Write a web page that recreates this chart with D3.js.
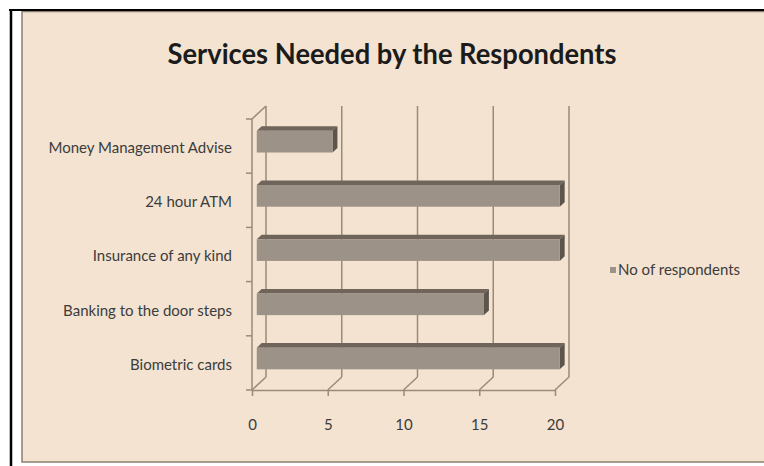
<!DOCTYPE html>
<html>
<head>
<meta charset="utf-8">
<script src="https://cdn.jsdelivr.net/npm/d3@7"></script>
<style>
  html, body { margin: 0; padding: 0; background: #ffffff; }
  svg { display: block; }
</style>
</head>
<body>
<svg id="chart" width="764" height="466"></svg>
<script>
// ---- data ----
const title = "Services Needed by the Respondents";
const categories = ["Money Management Advise", "24 hour ATM", "Insurance of any kind", "Banking to the door steps", "Biometric cards"];
const values = [5, 20, 20, 15, 20];
const seriesName = "No of respondents";
const xTicks = [0, 5, 10, 15, 20];

// ---- layout ----
const W = 764, H = 466;
const svg = d3.select("#chart");
const font = "Lato, 'Open Sans', 'DejaVu Sans', sans-serif";

// outer frame
svg.append("rect").attr("x", 0).attr("y", 0).attr("width", W).attr("height", H).attr("fill", "#ffffff");
svg.append("rect").attr("x", 22).attr("y", 11.5).attr("width", W - 21).attr("height", 450.5)
  .attr("fill", "#F3E3D0").attr("stroke", "#8c8070").attr("stroke-width", 1.5);
svg.append("line").attr("x1", 9).attr("x2", W).attr("y1", 10).attr("y2", 10)
  .attr("stroke", "#000").attr("stroke-width", 2);
svg.append("line").attr("x1", 11).attr("x2", 11).attr("y1", 9).attr("y2", H)
  .attr("stroke", "#000").attr("stroke-width", 2.5);

// title
svg.append("text").attr("x", 392).attr("y", 64).attr("text-anchor", "middle")
  .attr("font-family", font).attr("font-weight", "bold").attr("font-size", 28)
  .attr("fill", "#1b1b1b").attr("textLength", 449).attr("lengthAdjust", "spacingAndGlyphs")
  .text(title);

// scales (front plane)
const x = d3.scaleLinear().domain([0, 20]).range([252, 555]);
const y = d3.scaleBand().domain(categories).range([119, 390]).paddingInner(0.6).paddingOuter(0.3);
const dx = 14, dy = -13;       // depth offset of back wall
const t0 = 0.34, t1 = 0.69;    // bar depth extent (fraction)
const gridColor = "#9a8b79";
const yTop = y.range()[0], yBot = y.range()[1];

const g = svg.append("g");

// back wall gridlines
g.selectAll("line.grid").data(xTicks).join("line").attr("class", "grid")
  .attr("x1", d => x(d) + dx).attr("x2", d => x(d) + dx)
  .attr("y1", yTop + dy).attr("y2", yBot + dy)
  .attr("stroke", gridColor).attr("stroke-width", 1.5);

// floor diagonals
g.selectAll("line.floor").data(xTicks).join("line").attr("class", "floor")
  .attr("x1", d => x(d)).attr("x2", d => x(d) + dx)
  .attr("y1", yBot).attr("y2", yBot + dy)
  .attr("stroke", gridColor).attr("stroke-width", 1.5);

// left wall front line + top diagonal
g.append("line").attr("x1", x(0)).attr("x2", x(0)).attr("y1", yTop).attr("y2", yBot)
  .attr("stroke", gridColor).attr("stroke-width", 1.5);
g.append("line").attr("x1", x(0)).attr("x2", x(0) + dx).attr("y1", yTop).attr("y2", yTop + dy)
  .attr("stroke", gridColor).attr("stroke-width", 1.5);

// category boundary ticks
const bounds = d3.range(categories.length + 1).map(i => yTop + i * y.step());
g.selectAll("line.ctick").data(bounds).join("line").attr("class", "ctick")
  .attr("x1", x(0) - 6).attr("x2", x(0)).attr("y1", d => d).attr("y2", d => d)
  .attr("stroke", gridColor).attr("stroke-width", 1.5);

// bars
const bw = y.bandwidth();
const bars = g.selectAll("g.bar").data(categories.map((c, i) => ({c, v: values[i]}))).join("g").attr("class", "bar");
const P = (px, py) => px + "," + py;
bars.append("polygon").attr("fill", "#6f655b")
  .attr("points", d => {
    const a = x(0), b = x(d.v), yt = y(d.c);
    return [P(a + dx*t0, yt + dy*t0), P(b + dx*t0, yt + dy*t0), P(b + dx*t1, yt + dy*t1), P(a + dx*t1, yt + dy*t1)].join(" ");
  });
bars.append("polygon").attr("fill", "#5d544b")
  .attr("points", d => {
    const b = x(d.v), yt = y(d.c), yb = y(d.c) + bw;
    return [P(b + dx*t0, yt + dy*t0), P(b + dx*t1, yt + dy*t1), P(b + dx*t1, yb + dy*t1), P(b + dx*t0, yb + dy*t0)].join(" ");
  });
bars.append("rect").attr("fill", "#9d9287")
  .attr("x", x(0) + dx*t0).attr("y", d => y(d.c) + dy*t0)
  .attr("width", d => x(d.v) - x(0)).attr("height", bw);

// x axis (front floor edge)
const xAxis = d3.axisBottom(x).tickValues(xTicks).tickSize(6).tickSizeOuter(0).tickPadding(23).tickFormat(d3.format("d"));
const gx = svg.append("g").attr("transform", `translate(0,${yBot})`).call(xAxis);
gx.select(".domain").attr("stroke", gridColor).attr("stroke-width", 1.5);
gx.selectAll(".tick line").attr("stroke", gridColor).attr("stroke-width", 1.5);
gx.selectAll(".tick text").attr("font-family", font).attr("font-size", 15).attr("fill", "#3c3c3c");

// y axis labels
const yAxis = d3.axisLeft(y).tickSize(0).tickPadding(20);
const gy = svg.append("g").attr("transform", `translate(${x(0)},2)`).call(yAxis);
gy.select(".domain").remove();
gy.selectAll(".tick text").attr("font-family", font).attr("font-size", 15).attr("fill", "#3c3c3c");

// legend
const lg = svg.append("g").attr("transform", "translate(610,267)");
lg.append("rect").attr("width", 6).attr("height", 6).attr("fill", "#9d9287");
lg.append("text").attr("x", 8).attr("y", 3).attr("dy", "0.35em")
  .attr("font-family", font).attr("font-size", 15).attr("fill", "#3c3c3c").text(seriesName);
</script>
</body>
</html>
